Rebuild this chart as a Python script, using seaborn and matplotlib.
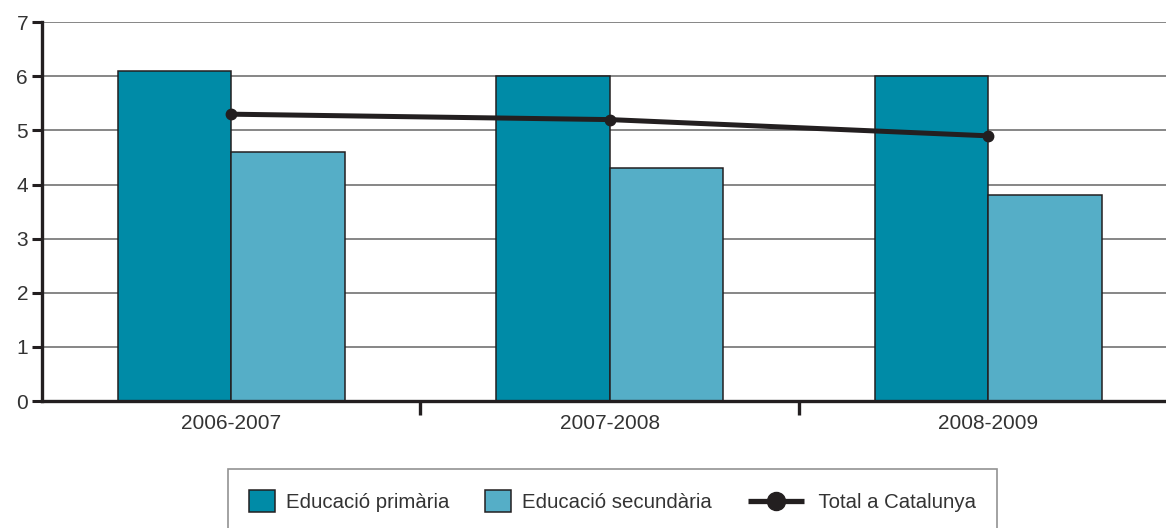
import matplotlib.pyplot as plt
import matplotlib.patches as mpatches
from matplotlib.lines import Line2D
from matplotlib.legend_handler import HandlerBase
import numpy as np
import pandas as pd
import seaborn as sns

cursos = ["2006-2007", "2007-2008", "2008-2009"]
primaria = [6.1, 6.0, 6.0]
secundaria = [4.6, 4.3, 3.8]
total = [5.3, 5.2, 4.9]

series = ["Educació primària", "Educació secundària"]
etiqueta_total = "Total a Catalunya"
colors = ["#008ba7", "#55aec7"]
negre = "#231f20"
text_color = "#333333"

df = pd.DataFrame({
    "curs": cursos * 2,
    "valor": primaria + secundaria,
    "serie": [series[0]] * 3 + [series[1]] * 3,
})

sns.set_style("white")
plt.rcParams["font.family"] = ["Liberation Sans", "DejaVu Sans"]


class LiniaLlarga(HandlerBase):
    # line handle longer than the square patches
    def create_artists(self, legend, orig, xdescent, ydescent, width, height,
                       fontsize, trans):
        y = height / 2 - ydescent
        x0 = -xdescent
        llarg = width * 56 / 26
        ln = Line2D([x0, x0 + llarg], [y, y], color=negre, lw=3.8,
                    solid_capstyle="butt", transform=trans)
        mk = Line2D([x0 + llarg / 2], [y], marker="o", ms=13, color=negre,
                    lw=0, transform=trans)
        return [ln, mk]


fig = plt.figure(figsize=(11.66, 5.28), dpi=100)
ax = fig.add_axes([0.036, 0.2405, 0.964, 0.7175])

sns.barplot(data=df, x="curs", y="valor", hue="serie", palette=colors,
            saturation=1, width=0.6, edgecolor=negre, linewidth=1.1, ax=ax,
            legend=False, zorder=2)

ax.plot(np.arange(len(cursos)), total, color=negre, lw=3.6,
        marker="o", ms=7.5, zorder=3)

ax.set_ylim(0, 7)
ax.set_xlim(-0.5, 2.47)
ax.set_yticks(range(8))
ax.yaxis.grid(True, color="#666666", lw=1.1)
ax.set_axisbelow(True)
ax.set_xlabel("")
ax.set_ylabel("")

for s in ["top", "right"]:
    ax.spines[s].set_visible(False)
for s in ["left", "bottom"]:
    ax.spines[s].set_linewidth(2.4)
    ax.spines[s].set_color(negre)

ax.tick_params(axis="y", length=7, width=2.2, color=negre, labelsize=15,
               labelcolor=text_color, pad=3, left=True, direction="out")
ax.tick_params(axis="x", length=0, labelsize=15, labelcolor=text_color, pad=9)
ax.set_xticks([0.5, 1.5], minor=True)
ax.tick_params(axis="x", which="minor", length=10, width=2.4, color=negre,
               bottom=True, direction="out")

handles = [
    mpatches.Patch(facecolor=colors[0], edgecolor=negre, lw=1.1, label=series[0]),
    mpatches.Patch(facecolor=colors[1], edgecolor=negre, lw=1.1, label=series[1]),
    Line2D([], [], color=negre, label="      " + etiqueta_total),
]
leg = fig.legend(handles=handles, loc="upper left",
                 bbox_to_anchor=(228 / 1166, 59 / 528), borderaxespad=0,
                 ncol=3, frameon=True, fancybox=False, fontsize=14.7,
                 handlelength=1.27, handleheight=1.27, columnspacing=1.75,
                 borderpad=1.05, handletextpad=0.54,
                 handler_map={Line2D: LiniaLlarga()})
leg.get_frame().set_edgecolor("#777777")
leg.get_frame().set_linewidth(1.2)
for t in leg.get_texts():
    t.set_color(text_color)

fig.savefig("out.png", dpi=100)
